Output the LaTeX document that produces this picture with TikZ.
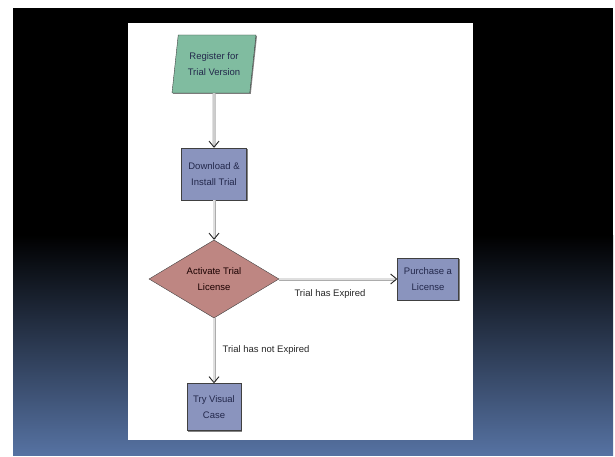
\documentclass[tikz,border=0pt]{standalone}
\usepackage{fontspec}
\setmainfont{Liberation Sans}
\usetikzlibrary{
  shapes.geometric,
  arrows.meta,
  positioning, shadows
}
\usepackage{xcolor}
\definecolor{boxblue}{RGB}{138,148,190}
\definecolor{decred}{RGB}{190,134,130}
\definecolor{startgreen}{RGB}{128,188,160}
\definecolor{bgblue}{RGB}{86,114,162}
\definecolor{txtnavy}{RGB}{35,40,75}

\tikzset{
  stepbox/.style={rectangle, draw=black!75, fill=boxblue, text=txtnavy,
    align=center, inner sep=1pt,
    drop shadow={shadow xshift=1pt, shadow yshift=-1pt, fill=black!60, opacity=.8}},
  startbox/.style={trapezium, trapezium left angle=76, trapezium right angle=104,
    draw=black!75, fill=startgreen, text=txtnavy, align=center, inner sep=1pt,
    minimum width=84pt, minimum height=58pt, trapezium stretches body,
    drop shadow={shadow xshift=1pt, shadow yshift=-1pt, fill=black!60, opacity=.8}},
  decbox/.style={diamond, draw=black!75, fill=decred, text=black!75!red!40!black,
    align=center, inner sep=0pt, aspect=1.67, minimum width=130pt, minimum height=78pt},
  flow/.style={draw=gray!65, double=gray!25, double distance=1.4pt, line width=0.8pt,
    -{Straight Barb[length=6pt, width=10pt, line width=0.9pt, color=gray!30!black]}},
  lbl/.style={text=black!85}
}

\begin{document}
\begin{tikzpicture}[x=1pt, y=-1pt,
    font=\fontsize{9.5}{16}\selectfont]
  \useasboundingbox (0,0) rectangle (615,457);

  % slide background: black top fading to blue
  \fill[white] (0,0) rectangle (615,457);
  \fill[black] (13,8) rectangle (613,235);
  \shade[top color=black, bottom color=bgblue] (13,235) rectangle (613,455);
  \fill[white] (128,23) rectangle (473,440);

  % flowchart nodes
  \node[startbox] (reg) at (214,64) {Register for\\Trial Version};
  \node[stepbox, minimum width=65pt, minimum height=52pt] (dl) at (214,174)
    {Download \&\\Install Trial};
  \node[decbox] (act) at (214,279) {Activate Trial\\License};
  \node[stepbox, minimum width=61pt, minimum height=42pt] (pur) at (428,279)
    {Purchase a\\License};
  \node[stepbox, minimum width=54pt, minimum height=47pt] (try) at (214,407)
    {Try Visual\\Case};

  % connectors
  \draw[flow] (reg.south) -- (dl.north);
  \draw[flow] (dl.south) -- (act.north);
  \draw[flow] (act.east) -- (pur.west);
  \draw[flow] (act.south) -- (try.north);

  % branch labels
  \node[lbl] (lexp) at (330,294) {Trial has Expired};
  \node[lbl] (lnot) at (266,350) {Trial has not Expired};
\end{tikzpicture}
\end{document}
